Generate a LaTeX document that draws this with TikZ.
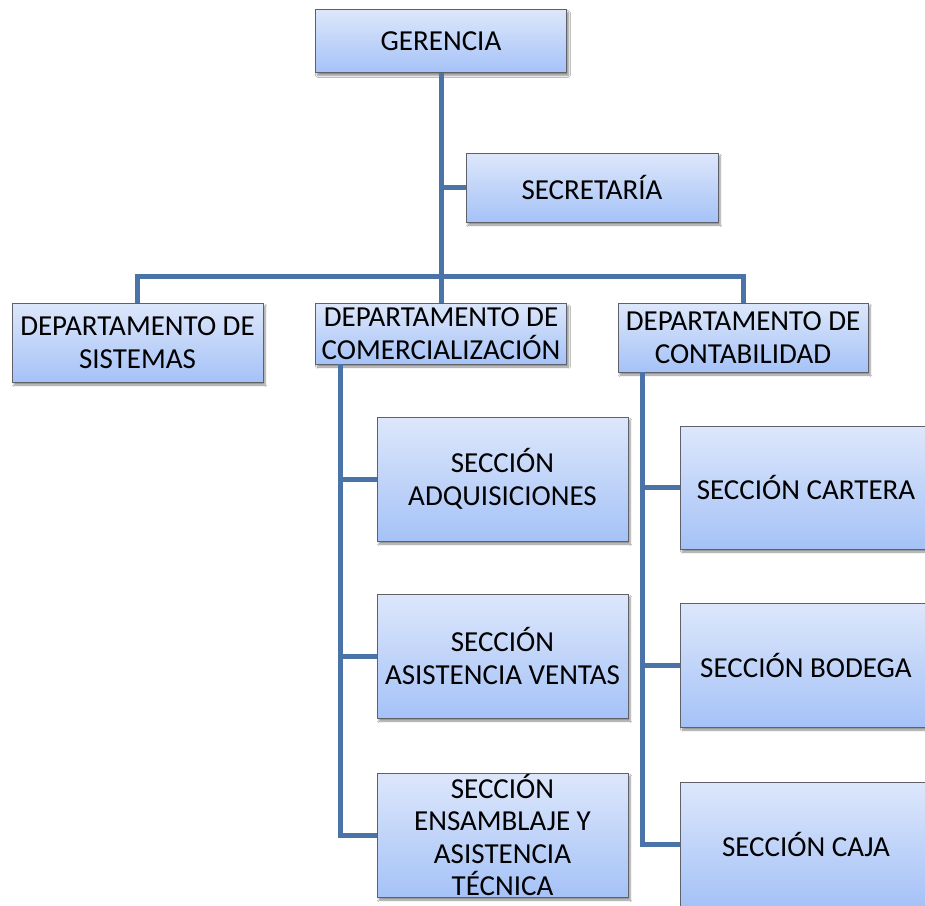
\documentclass[tikz,border=0pt]{standalone}
\usepackage{fontspec}
\setmainfont{Carlito}
\usetikzlibrary{shadows.blur}
\definecolor{boxtop}{HTML}{DDE7FB}
\definecolor{boxbot}{HTML}{A5C2F7}
\definecolor{boxline}{HTML}{5E6168}
\definecolor{linkblue}{HTML}{4A74A8}
\begin{document}
\begin{tikzpicture}[x=1pt,y=-1pt,
  orgbox/.style={draw=boxline, line width=0.9pt, top color=boxtop, bottom color=boxbot,
    blur shadow={shadow xshift=2pt, shadow yshift=-3pt, shadow blur steps=6, shadow opacity=45},
    minimum width=251pt, inner sep=0pt, align=center,
    font=\fontsize{29}{32.5}\selectfont},
  conn/.style={draw=linkblue, line width=5pt, line join=miter}]
\clip (0,0) rectangle (925,905);
\fill[white] (0,0) rectangle (925,905);

% level of the horizontal bus under the secretary branch
\coordinate (bus) at (441,276);

% boxes
\node[orgbox, minimum height=63pt] (ger) at (441,41) {GERENCIA};
\node[orgbox, minimum width=252pt, minimum height=69pt] (sec) at (592,187.5) {SECRETARÍA};
\node[orgbox, minimum height=79pt] (sis) at (137.5,342.5) {DEPARTAMENTO DE\\SISTEMAS};
\node[orgbox, minimum height=61pt] (com) at (441,333.5) {DEPARTAMENTO DE\\COMERCIALIZACIÓN};
\node[orgbox, minimum width=250pt, minimum height=69pt] (con) at (743,337.5) {DEPARTAMENTO DE\\CONTABILIDAD};
\node[orgbox, minimum height=124pt] (adq) at (502.5,479) {SECCIÓN\\ADQUISICIONES};
\node[orgbox, minimum height=124pt] (ven) at (502.5,656) {SECCIÓN\\ASISTENCIA VENTAS};
\node[orgbox, minimum height=124pt] (ens) at (502.5,835) {SECCIÓN\\ENSAMBLAJE Y\\ASISTENCIA\\TÉCNICA};
\node[orgbox, minimum height=123pt] (car) at (806,487.5) {SECCIÓN CARTERA};
\node[orgbox, minimum height=124pt] (bod) at (806,665) {SECCIÓN BODEGA};
\node[orgbox, minimum height=124pt] (caj) at (806,844) {SECCIÓN CAJA};

% links between the boxes
\draw[conn] (ger.south) -- (com.north);
\draw[conn] (ger.south) |- (sec.west);
\draw[conn] (sis.north) |- (bus) -| (con.north);

\coordinate (comtr) at ([xshift=25pt]com.south west);
\draw[conn] (comtr) |- (adq.west);
\draw[conn] (comtr) |- (ven.west);
\draw[conn] (comtr) |- (ens.west);

\coordinate (contr) at ([xshift=25pt]con.south west);
\draw[conn] (contr) |- (car.west);
\draw[conn] (contr) |- (bod.west);
\draw[conn] (contr) |- (caj.west);
\end{tikzpicture}
\end{document}
